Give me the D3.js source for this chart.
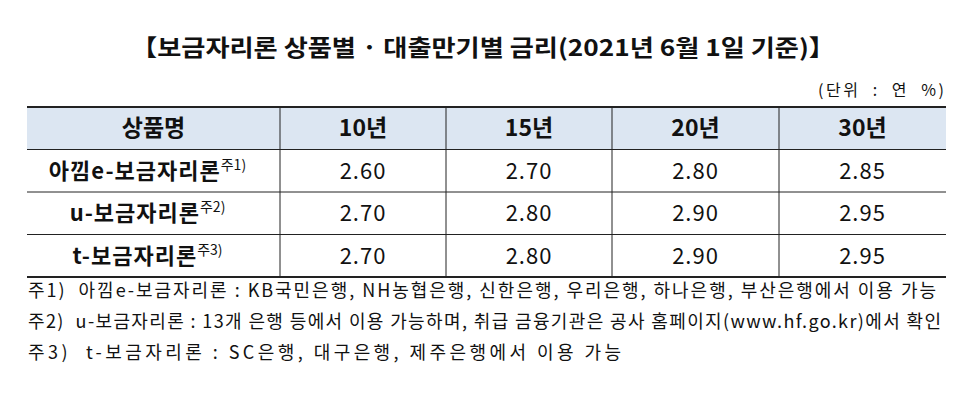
<!DOCTYPE html>
<html><head><meta charset="utf-8">
<script src="https://cdn.jsdelivr.net/npm/d3@7"></script>
<style>body{margin:0;background:#fff}svg{display:block}text{font-family:"Noto Sans CJK KR","Noto Sans",sans-serif;fill:#111}</style>
</head><body><svg id="c" width="956" height="419"></svg>
<script>
var title = "【보금자리론 상품별 · 대출만기별 금리(2021년 6월 1일 기준)】";
var unit = "(단위  :  연  %)";
var headers = ["상품명", "10년", "15년", "20년", "30년"];
var products = ["아낌e-보금자리론", "u-보금자리론", "t-보금자리론"];
var noteMarks = ["주1)", "주2)", "주3)"];
var rate10 = [2.60, 2.70, 2.70];
var rate15 = [2.70, 2.80, 2.80];
var rate20 = [2.80, 2.90, 2.90];
var rate30 = [2.85, 2.95, 2.95];
var notes = [
  "주1)  아낌e-보금자리론 : KB국민은행, NH농협은행, 신한은행, 우리은행, 하나은행, 부산은행에서 이용 가능",
  "주2)  u-보금자리론 : 13개 은행 등에서 이용 가능하며, 취급 금융기관은 공사 홈페이지(www.hf.go.kr)에서 확인",
  "주3)  t-보금자리론 : SC은행, 대구은행, 제주은행에서 이용 가능"
];
var noteWidths = [908, 913, 593];

var svg = d3.select("#c");
var colEdges = [27, 280, 446, 612, 779, 946];
var rowY = d3.scaleBand().domain(d3.range(4)).range([107, 277]);

svg.append("text").attr("x", 131).attr("y", 56).attr("textLength", 704).attr("lengthAdjust", "spacingAndGlyphs")
  .attr("font-size", 23).attr("font-weight", "bold").text(title);
svg.append("text").attr("x", 818).attr("y", 96).attr("textLength", 126).attr("lengthAdjust", "spacing")
  .attr("font-size", 16).attr("xml:space", "preserve").text(unit);

svg.append("rect").attr("x", 27).attr("y", rowY(0)).attr("width", 919).attr("height", rowY.bandwidth())
  .attr("fill", "#dce6f2");

d3.range(5).forEach(function (i) {
  var y = i < 4 ? rowY(i) : 277;
  svg.append("line").attr("x1", 27).attr("x2", 946).attr("y1", y).attr("y2", y)
    .attr("stroke", "#222").attr("stroke-width", (i == 0 || i == 4) ? 2 : 1);
});
colEdges.slice(1, 5).forEach(function (x) {
  svg.append("line").attr("x1", x).attr("x2", x).attr("y1", 107).attr("y2", 277)
    .attr("stroke", "#222").attr("stroke-width", 1);
});

function cx(i) { return (colEdges[i] + colEdges[i + 1]) / 2; }
function cy(r) { return rowY(r) + rowY.bandwidth() / 2 + 8; }

headers.forEach(function (h, i) {
  svg.append("text").attr("x", cx(i)).attr("y", cy(0)).attr("text-anchor", "middle")
    .attr("font-size", 23).attr("font-weight", "bold").text(h);
});

products.forEach(function (p, r) {
  var t = svg.append("text").attr("x", cx(0) - 6).attr("y", cy(r + 1)).attr("text-anchor", "middle")
    .attr("font-size", 22).attr("font-weight", "bold").attr("letter-spacing", 1);
  t.append("tspan").text(p);
  t.append("tspan").attr("font-size", 14).attr("font-weight", "normal").attr("letter-spacing", 0).attr("dy", -9).text(noteMarks[r]);
  [rate10, rate15, rate20, rate30].forEach(function (s, c) {
    svg.append("text").attr("x", cx(c + 1)).attr("y", cy(r + 1)).attr("text-anchor", "middle")
      .attr("font-size", 22).attr("letter-spacing", 1).text(d3.format(".2f")(s[r]));
  });
});

notes.forEach(function (n, i) {
  svg.append("text").attr("x", 28).attr("y", 297 + i * 31).attr("font-size", 18)
    .attr("textLength", noteWidths[i]).attr("lengthAdjust", "spacing").attr("xml:space", "preserve").text(n);
});
</script></body></html>
